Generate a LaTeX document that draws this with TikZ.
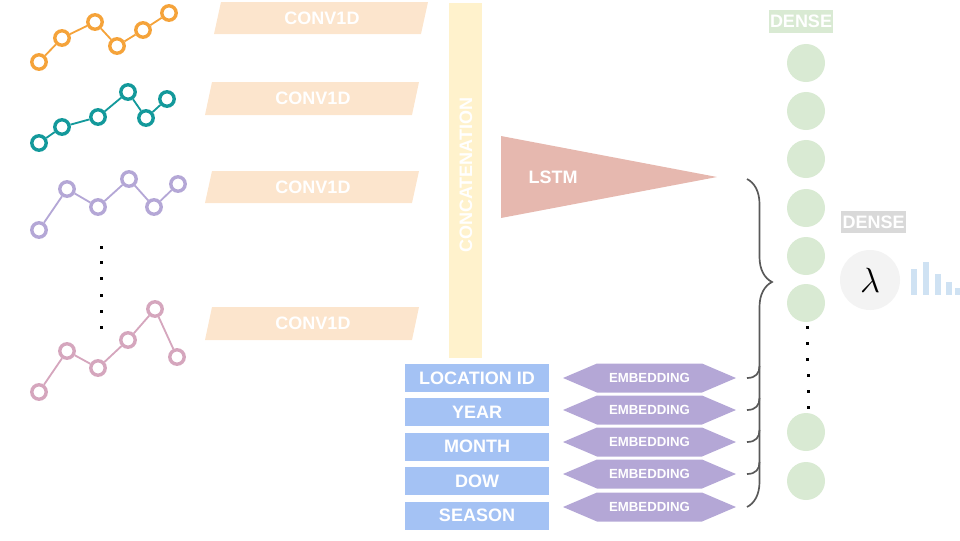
\documentclass[tikz,border=0pt]{standalone}
\usepackage{fontspec}
\setmainfont{Liberation Sans}
\usepackage{tikz}
\usetikzlibrary{decorations.pathreplacing}
\usepackage{xcolor}

\definecolor{laranja}{HTML}{F5A33A}
\definecolor{verdeagua}{HTML}{13999B}
\definecolor{lilas}{HTML}{B4A7D6}
\definecolor{rosa}{HTML}{D5A6BD}
\definecolor{pessego}{HTML}{FCE5CD}
\definecolor{amarelo}{HTML}{FFF2CC}
\definecolor{salmao}{HTML}{E6B8AF}
\definecolor{verde}{HTML}{D9EAD3}
\definecolor{azul}{HTML}{A4C2F4}
\definecolor{cinza}{HTML}{D9D9D9}
\definecolor{cinzaclaro}{HTML}{F3F3F3}
\definecolor{azulclaro}{HTML}{CFE2F3}
\definecolor{cinzaescuro}{HTML}{595959}

\begin{document}
\begin{tikzpicture}[x=0.025cm,y=-0.025cm,
    rotulo/.style={text=white,font=\fontsize{12.8}{14}\selectfont\bfseries,inner sep=1pt},
    ponto/.style={circle,draw=#1,fill=white,line width=2.4pt,minimum size=0.36cm,inner sep=0pt},
    linha/.style={#1,line width=1.3pt},
    neuronio/.style={circle,fill=verde,minimum size=0.95cm,inner sep=0pt},
    entrada/.style={rotulo,fill=azul,minimum width=3.6cm,minimum height=0.7cm},
    chave/.style={cinzaescuro,line width=1.2pt}]
    \useasboundingbox (0,0) rectangle (960,540);
    % Séries
    \foreach \x/\y [count=\i] in {39/62,62/38,95/22,117/46,143/30,169/13}
        \node[ponto=laranja] (a\i) at (\x,\y) {};
    \draw[linha=laranja] (a1) -- (a2) -- (a3) -- (a4) -- (a5) -- (a6);
    \foreach \x/\y [count=\i] in {39/143,62/127,98/117,128/92,146/118,167/99}
        \node[ponto=verdeagua] (b\i) at (\x,\y) {};
    \draw[linha=verdeagua] (b1) -- (b2) -- (b3) -- (b4) -- (b5) -- (b6);
    \foreach \x/\y [count=\i] in {39/230,67/189,98/207,129/179,154/207,178/184}
        \node[ponto=lilas] (c\i) at (\x,\y) {};
    \draw[linha=lilas] (c1) -- (c2) -- (c3) -- (c4) -- (c5) -- (c6);
    \foreach \x/\y [count=\i] in {39/392,67/351,98/368,128/340,155/309,177/357}
        \node[ponto=rosa] (e\i) at (\x,\y) {};
    \draw[linha=rosa] (e1) -- (e2) -- (e3) -- (e4) -- (e5) -- (e6);
    \foreach \y in {247,262,278,295,311,327}
        \fill (99.5,\y-1.5) rectangle ++(3,3);
    % Conv1D
    \foreach \dx/\ya/\yb [count=\i] in {9/2/34,0/82/115,0/171/203,0/307/340} {
        \fill[pessego] (205+\dx,\yb) -- (212+\dx,\ya) -- (419+\dx,\ya) -- (412+\dx,\yb) -- cycle;
        \node[rotulo] (conv\i) at (313+\dx,{(\ya+\yb)/2}) {CONV1D};
    }
    % Concatenação e LSTM
    \fill[amarelo] (449,3) rectangle (482,358);
    \node[rotulo,rotate=90] (concat) at (466,175) {CONCATENATION};
    \fill[salmao] (501,136) -- (717,177) -- (501,218) -- cycle;
    \node[rotulo] (lstm) at (553,177) {LSTM};
    % Entradas e embeddings
    \foreach \t/\y [count=\i] in {LOCATION ID/378,YEAR/412,MONTH/446.5,DOW/481,SEASON/515.5}
        \node[entrada] (in\i) at (477,\y) {\t};
    \foreach \y [count=\i] in {378,410,442,474,507} {
        \fill[lilas] (563,\y) -- (597,\y-14.5) -- (702,\y-14.5) -- (736,\y)
            -- (702,\y+14.5) -- (597,\y+14.5) -- cycle;
        \node[rotulo,font=\fontsize{9.4}{10}\selectfont\bfseries] (emb\i) at (649.5,\y) {EMBEDDING};
        \coordinate (gancho\i) at (747,\y);
    }
    % Chave
    \draw[chave,decorate,decoration={brace,amplitude=0.625cm,aspect=0.314}] (747,179) -- (747,507);
    \foreach \i in {1,...,4}
        \draw[chave] (gancho\i) .. controls +(9,0) and +(0,7) .. +(12.5,-12);
    % Camada densa
    \node[rotulo,fill=verde,minimum height=0.575cm] (densa) at (801,21.5) {DENSE};
    \foreach \y [count=\i] in {63,111,159,208,256,303,432,481}
        \node[neuronio] (d\i) at (806,\y) {};
    \foreach \y [count=\i] in {327,343,359,375,391,407}
        \fill (805.5+0.3*\i,\y-1.5) rectangle ++(3,3);
    % Saída
    \node[rotulo,fill=cinza,minimum height=0.55cm] (densa2) at (873.5,222) {DENSE};
    \node[circle,fill=cinzaclaro,minimum size=1.5cm] (lambda) at (870,280) {\fontsize{24}{24}\selectfont$\lambda$};
    \foreach \x/\h in {911/26,923/33,935/21,946/13,955/7}
        \fill[azulclaro] (\x,295) rectangle ++(6,-\h);
\end{tikzpicture}
\end{document}
